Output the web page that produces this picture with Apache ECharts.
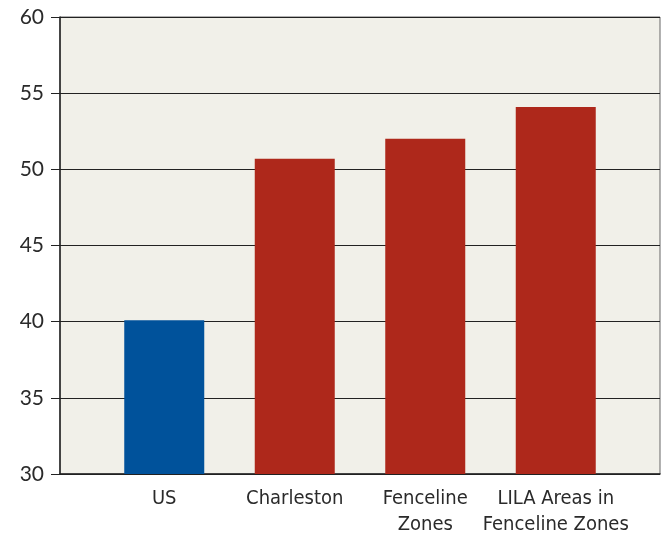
<!DOCTYPE html>
<html>
<head>
<meta charset="utf-8">
<script src="https://cdn.jsdelivr.net/npm/echarts@6/dist/echarts.min.js"></script>
<style>
html, body { margin: 0; padding: 0; background: #fff; }
#main { width: 665px; height: 539px; }
</style>
</head>
<body>
<div id="main"></div>
<script>
var categories = ['US', 'Charleston', 'Fenceline\nZones', 'LILA Areas in\nFenceline Zones'];
var values = [40.1, 50.7, 52.0, 54.1];
var barColors = ['#00529b', '#ae281b', '#ae281b', '#ae281b'];
var yMin = 30, yMax = 60, yStep = 5;

var chart = echarts.init(document.getElementById('main'));
chart.setOption({
    animation: false,
    grid: [
        { left: 60, right: 5, top: 17, bottom: 65, show: true, backgroundColor: '#f1f0e9', borderColor: '#666', borderWidth: 1 },
        { left: 99, right: 44, top: 17, bottom: 65 }
    ],
    xAxis: [
        {
            gridIndex: 0,
            type: 'category',
            data: [''],
            axisLine: { show: true, lineStyle: { color: '#222', width: 1.5 } },
            axisTick: { show: false },
            axisLabel: { show: false }
        },
        {
            gridIndex: 1,
            type: 'category',
            data: categories,
            axisLine: { show: false },
            axisTick: { show: false },
            axisLabel: {
                interval: 0,
                margin: 12,
                fontSize: 20,
                lineHeight: 26,
                color: '#2a2a2a',
                fontFamily: '"Liberation Sans Narrow", "DejaVu Sans Condensed", sans-serif'
            }
        }
    ],
    yAxis: [
        {
            gridIndex: 0,
            type: 'value',
            min: yMin, max: yMax, interval: yStep,
            axisLine: { show: true, lineStyle: { color: '#222', width: 1.5 } },
            axisTick: { show: true, length: 9, lineStyle: { color: '#222' } },
            splitLine: { show: true, lineStyle: { color: '#222', width: 1.2 } },
            axisLabel: { margin: 16, fontSize: 21, color: '#2a2a2a', fontFamily: 'Lato, "Open Sans", sans-serif' }
        },
        {
            gridIndex: 1,
            type: 'value',
            min: yMin, max: yMax, interval: yStep,
            show: false,
            splitLine: { show: false }
        }
    ],
    series: [
        {
            type: 'bar',
            xAxisIndex: 1,
            yAxisIndex: 1,
            barWidth: 80,
            data: values.map(function (v, i) {
                return { value: v, itemStyle: { color: barColors[i] } };
            })
        }
    ]
});
</script>
</body>
</html>
